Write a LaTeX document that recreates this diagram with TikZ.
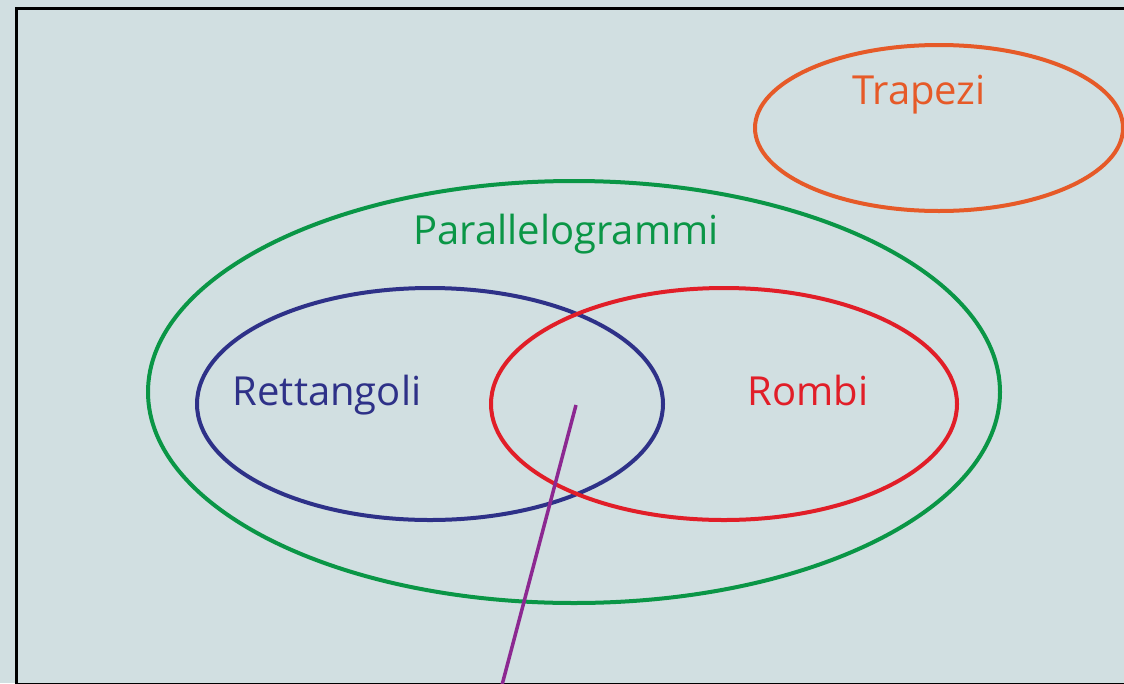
\documentclass[tikz,border=0pt]{standalone}
\usepackage{fontspec}
\setmainfont{Open Sans}
\definecolor{bg}{RGB}{209,223,225}
\definecolor{trap}{RGB}{230,90,40}
\definecolor{para}{RGB}{10,150,70}
\definecolor{rett}{RGB}{46,49,136}
\definecolor{romb}{RGB}{225,30,40}
\definecolor{line}{RGB}{140,40,145}
\begin{document}
\begin{tikzpicture}[x=1pt,y=-1pt,
  set/.style={draw,line width=4pt},
  lbl/.style={font=\fontsize{40}{44}\selectfont,inner sep=0pt,anchor=base}]
\useasboundingbox (0,0) rectangle (1124,683);
\fill[bg] (0,0) rectangle (1124,683);
\draw[line width=3.5pt,black] (16.5,8.5) rectangle (1127,684.5);
\draw[set,trap] (939,128) ellipse [x radius=184,y radius=83];
\draw[set,para] (574,392) ellipse [x radius=426,y radius=211];
\draw[set,rett] (430,404) ellipse [x radius=233,y radius=116];
\draw[set,romb] (724,404) ellipse [x radius=233,y radius=116];
\node[lbl,text=trap] (t) at (919,104) {Trapezi};
\node[lbl,text=para] (p) at (566,244) {Parallelogrammi};
\node[lbl,text=rett] (r) at (327,405) {Rettangoli};
\node[lbl,text=romb] (o) at (808,405) {Rombi};
\coordinate (a) at (576,405);
\coordinate (b) at (502,685);
\draw[line,line width=3.5pt] (a) -- (b);
\end{tikzpicture}
\end{document}
